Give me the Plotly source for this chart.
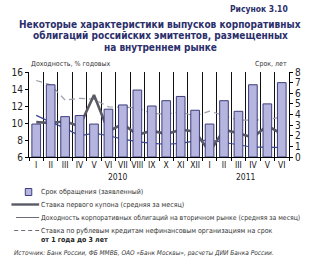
import plotly.graph_objects as go

months = ["I", "II", "III", "IV", "V", "VI", "VII", "VIII", "IX", "X", "XI", "XII",
          "I", "II", "III", "IV", "V", "VI"]
years = ["2010", "2011"]
term_years = [3.1, 6.8, 3.8, 3.9, 3.1, 4.5, 4.9, 6.3, 4.8, 5.3, 5.7, 4.4,
              3.1, 5.3, 4.3, 6.8, 5.0, 7.0]
first_coupon = [10.1, 10.0, 10.2, 9.6, 13.3, 9.0, 9.9, 8.6, 9.1, 8.7, 9.2, 9.0,
                6.6, 9.2, 8.8, 8.3, 9.7, 8.7]
secondary_yield = [10.9, 10.1, 9.4, 8.5, 8.8, 8.5, 8.1, 7.8, 7.6, 7.5, 7.6, 7.9,
                   8.0, 7.7, 7.4, 7.15, 7.15, 7.1]
loan_rate = [15.0, 14.5, 12.7, 12.9, 12.8, 11.9, 11.85, 11.8, 11.1, 11.05, 11.3, 10.8,
             11.4, 10.9, 10.35, 10.35, 10.4, 10.7]

x = list(range(len(months)))
FONT = "Liberation Sans Narrow, DejaVu Sans Condensed, Arial Narrow, sans-serif"
NAVY = "#2b2f6b"

W, H = 313, 265
L, R, T, B = 19, 13, 72, 108
PW, PH = W - L - R, H - T - B

fig = go.Figure()
fig.add_trace(go.Bar(x=x, y=term_years, yaxis="y2", width=0.6,
                     marker=dict(color="#b5b5e0", line=dict(color="#3e3e7a", width=1)),
                     name="Срок обращения (заявленный)"))
fig.add_trace(go.Scatter(x=x, y=loan_rate, mode="lines",
                         line=dict(color="#9c9cab", width=1.2, dash="6px,4px")))
fig.add_trace(go.Scatter(x=x, y=secondary_yield, mode="lines",
                         line=dict(color="#3b4795", width=1.2)))
fig.add_trace(go.Scatter(x=x, y=first_coupon, mode="lines",
                         line=dict(color="#5a5a66", width=2.6)))

fig.update_layout(
    width=W, height=H, showlegend=False,
    margin=dict(l=L, r=R, t=T, b=B),
    paper_bgcolor="white", plot_bgcolor="white",
    font=dict(family=FONT, size=9, color="#222"),
    xaxis=dict(range=[-0.5, 17.5], tickmode="array", tickvals=x, ticktext=months,
               showgrid=False, ticks="", showline=True, linecolor="black", linewidth=1,
               tickfont=dict(size=8.5, color="#111"),
               minor=dict(tick0=0.5, dtick=1, showgrid=True, gridcolor="#111",
                          gridwidth=1, ticks="outside", ticklen=3, tickcolor="black"),
               zeroline=False),
    yaxis=dict(range=[6, 16], dtick=2, showgrid=False, showline=True, linecolor="black",
               ticks="outside", ticklen=3, tickcolor="black", zeroline=False,
               tickfont=dict(size=10, color="#222")),
    yaxis2=dict(range=[0, 8], dtick=1, overlaying="y", side="right", showgrid=False,
                showline=True, linecolor="black", ticks="outside", ticklen=3,
                tickcolor="black", zeroline=False, tickfont=dict(size=10, color="#222")),
)

def sx(xp):
    return (xp - L) / PW

def sy(yp):
    return (T + PH - yp) / PH

annotations = []
def add(text, xp, yp, anchor="left", size=8, color="#333", bold=False, italic=False):
    t = text
    if bold:
        t = "<b>" + t + "</b>"
    if italic:
        t = "<i>" + t + "</i>"
    annotations.append(dict(text=t, x=sx(xp), y=sy(yp), xref="paper", yref="paper",
                            xanchor=anchor, yanchor="middle", showarrow=False,
                            font=dict(size=size, color=color, family=FONT)))

title_lines = ["Некоторые характеристики выпусков корпоративных",
               "облигаций российских эмитентов, размещенных",
               "на внутреннем рынке"]
add("Рисунок 3.10", 301, 9, anchor="right", size=8.5, color=NAVY, bold=True)
add(title_lines[0], 161, 24, anchor="center", size=10, color=NAVY, bold=True)
add(title_lines[1], 161, 36, anchor="center", size=10, color=NAVY, bold=True)
add(title_lines[2], 161, 48, anchor="center", size=10, color=NAVY, bold=True)
add("Доходность, % годовых", 19, 64, size=7)
add("Срок, лет", 300, 64, anchor="right", size=7)
add(years[0], 115, 177, anchor="center", size=8.5, color="#222")
add(years[1], 254, 177, anchor="center", size=8.5, color="#222")
add("Срок обращения (заявленный)", 30, 192, size=7)
add("Ставка первого купона (средняя за месяц)", 30, 205, size=7)
add("Доходность корпоративных облигаций на вторичном рынке (средняя за месяц)", 30, 218, size=6.8)
add("Ставка по рублевым кредитам нефинансовым организациям на срок", 30, 231, size=7)
add("от 1 года до 3 лет", 30, 240, size=7, bold=True, color="#222")
add("Источник: Банк России, ФБ ММВБ, ОАО «Банк Москвы», расчеты ДИИ Банка России.", 1, 253,
    size=6.5, italic=True)
fig.update_layout(annotations=annotations)

shapes = []
shapes.append(dict(type="rect", xref="paper", yref="paper", x0=sx(15), x1=sx(22),
                   y0=sy(195.5), y1=sy(188.5), fillcolor="#b5b5e0",
                   line=dict(color="#3e3e7a", width=1)))
shapes.append(dict(type="line", xref="paper", yref="paper", x0=sx(0), x1=sx(30),
                   y0=sy(204.5), y1=sy(204.5), line=dict(color="#5a5a66", width=2.4)))
shapes.append(dict(type="line", xref="paper", yref="paper", x0=sx(5), x1=sx(30),
                   y0=sy(217.5), y1=sy(217.5), line=dict(color="#6a6a78", width=1)))
shapes.append(dict(type="line", xref="paper", yref="paper", x0=sx(3), x1=sx(30),
                   y0=sy(230.5), y1=sy(230.5), line=dict(color="#6a6a78", width=1, dash="4px,3px")))
fig.update_layout(shapes=shapes)

fig.write_html("out.html")
